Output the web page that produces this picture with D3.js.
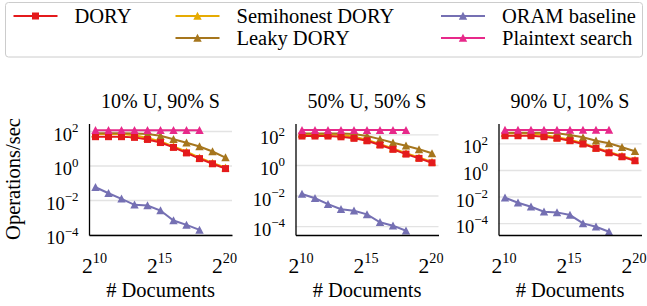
<!doctype html>
<html>
<head>
<meta charset="utf-8">
<style>
  body { margin: 0; background: #fff; }
</style>
<script src="https://cdn.jsdelivr.net/npm/d3@7"></script>
</head>
<body>
<svg id="chart" width="647" height="306"></svg>
<script>
// x values are powers of two (number of documents)
var docExps = [10, 11, 12, 13, 14, 15, 16, 17, 18, 19, 20];
var docExpsShort = [10, 11, 12, 13, 14, 15, 16, 17, 18];
var xTickExps = [10, 15, 20];
var yTickExps = [-4, -2, 0, 2];

var titles = ["10% U, 90% S", "50% U, 50% S", "90% U, 10% S"];

// operations / sec, one row per workload
var dory = [
  [46.8, 46.8, 46.8, 42.7, 32.4, 21.4, 11.2, 5.37, 2.51, 1.26, 0.66],
  [77.6, 77.6, 77.6, 69.2, 55.0, 38.0, 20.0, 10.5, 5.13, 2.69, 1.38],
  [372, 372, 372, 316, 240, 158, 89.1, 41.7, 19.5, 9.77, 4.90]
];
var semihonest = [
  [67.6, 67.6, 66.1, 56.2, 39.8, 25.1, 12.6, 6.31, 2.82, 1.41, 0.74],
  [107, 107, 105, 91.2, 69.2, 44.7, 22.9, 12.0, 5.89, 3.09, 1.58],
  [575, 575, 550, 417, 282, 186, 102, 47.9, 22.4, 11.2, 5.62]
];
var leaky = [
  [74.1, 74.1, 74.1, 72.4, 66.1, 52.5, 33.1, 20.9, 12.6, 6.46, 2.88],
  [115, 115, 115, 115, 107, 77.6, 49.0, 28.2, 17.8, 10.5, 5.75],
  [631, 631, 631, 617, 562, 417, 282, 158, 100, 50.1, 25.1]
];
var oram = [
  [0.055, 0.0245, 0.0117, 0.00525, 0.00479, 0.00245, 0.000646, 0.000363, 0.000186],
  [0.0126, 0.0066, 0.00275, 0.00126, 0.00102, 0.000589, 0.000178, 0.000107, 0.0000501],
  [0.00813, 0.00339, 0.0017, 0.000724, 0.000646, 0.000407, 0.0000955, 0.0000537, 0.0000224]
];
var plaintext = [
  [112, 112, 112, 112, 112, 112, 112, 112, 112],
  [190, 190, 190, 190, 190, 190, 190, 190, 190],
  [1000, 1000, 1000, 1000, 1000, 1000, 1000, 1000, 1000]
];

// y limits per panel (log10)
var yLimits = [[-4.03, 2.435], [-4.58, 2.71], [-4.89, 3.49]];

var series = [
  { name: "Semihonest DORY", color: "#e6ab02", marker: "tri", data: semihonest, xs: docExps },
  { name: "Leaky DORY", color: "#a6761d", marker: "tri", data: leaky, xs: docExps },
  { name: "DORY", color: "#e41a1c", marker: "sq", data: dory, xs: docExps },
  { name: "ORAM baseline", color: "#7570b3", marker: "tri", data: oram, xs: docExpsShort },
  { name: "Plaintext search", color: "#e7298a", marker: "tri", data: plaintext, xs: docExpsShort }
];

var FONT = "'Liberation Serif', 'Times New Roman', serif";
var svg = d3.select("#chart");
var panelLefts = [89, 295.5, 498.5];
var pw = 143, plotTop = 123.5, plotBottom = 235;

function marker(sel, kind, color) {
  if (kind === "sq") {
    sel.append("rect").attr("x", -3.5).attr("y", -3.5).attr("width", 7).attr("height", 7)
      .attr("fill", color);
  } else {
    sel.append("path").attr("d", "M0,-4.2L4.2,3.8L-4.2,3.8Z").attr("fill", color);
  }
}

function supText(t, base, sup, fs, scale, raise) {
  t.text(null);
  t.append("tspan").text(base);
  t.append("tspan").style("font-size", (fs * scale) + "px").attr("dy", -raise).text(sup);
}

function label(sel, fs) {
  return sel.style("font-family", FONT).style("font-size", fs + "px").attr("fill", "#000");
}

titles.forEach(function(title, p) {
  var left = panelLefts[p];
  var x = d3.scaleLog().base(2).domain([Math.pow(2, 9.5), Math.pow(2, 20.5)]).range([left, left + pw]);
  var y = d3.scaleLog().domain([Math.pow(10, yLimits[p][0]), Math.pow(10, yLimits[p][1])]).range([plotBottom, plotTop]);
  var g = svg.append("g");

  // grid
  g.append("g").attr("transform", "translate(" + left + ",0)")
    .call(d3.axisLeft(y).tickValues(yTickExps.map(function(e) { return Math.pow(10, e); }))
      .tickSize(-pw).tickFormat(""))
    .call(function(a) {
      a.select(".domain").remove();
      a.selectAll("line").attr("stroke", "#e3e3e3").attr("stroke-width", 1.4);
    });

  // lines + markers
  series.forEach(function(s) {
    var pts = s.xs.map(function(e, i) { return [Math.pow(2, e), s.data[p][i]]; });
    g.append("path").datum(pts)
      .attr("fill", "none").attr("stroke", s.color).attr("stroke-width", 2)
      .attr("d", d3.line().x(function(d) { return x(d[0]); }).y(function(d) { return y(d[1]); }));
    g.selectAll(null).data(pts).enter().append("g")
      .attr("transform", function(d) { return "translate(" + x(d[0]) + "," + y(d[1]) + ")"; })
      .each(function() { marker(d3.select(this), s.marker, s.color); });
  });

  // y axis
  g.append("g").attr("transform", "translate(" + left + ",0)")
    .call(d3.axisLeft(y).tickValues(yTickExps.map(function(e) { return Math.pow(10, e); }))
      .tickSize(0).tickSizeOuter(0).tickPadding(10.5))
    .call(function(a) {
      a.select(".domain").attr("stroke", "#000").attr("stroke-width", 1.3);
      label(a.selectAll("text"), 18.5).attr("dy", 9.5)
        .each(function(d, i) {
          var e = yTickExps[i];
          supText(d3.select(this), "10", (e < 0 ? "\u2212" : "") + Math.abs(e), 18.5, 0.7, 8.7);
        });
    });

  // x axis
  g.append("g").attr("transform", "translate(0," + plotBottom + ")")
    .call(d3.axisBottom(x).tickValues(xTickExps.map(function(e) { return Math.pow(2, e); }))
      .tickSize(0).tickSizeOuter(0).tickPadding(0))
    .call(function(a) {
      a.select(".domain").attr("stroke", "#000").attr("stroke-width", 1.3);
      label(a.selectAll("text"), 21.5).attr("dy", 38).attr("y", 0).attr("dx", -1.5)
        .each(function(d, i) {
          supText(d3.select(this), "2", String(xTickExps[i]), 21.5, 0.66, 10.4);
        });
    });

  label(g.append("text"), 20).attr("x", left + pw / 2).attr("y", 108)
    .attr("text-anchor", "middle").text(title);
  label(g.append("text"), 20.5).attr("x", left + pw / 2).attr("y", 297)
    .attr("text-anchor", "middle").text("# Documents");
});

label(svg.append("text"), 20.5).attr("transform", "translate(20,179) rotate(-90)")
  .attr("text-anchor", "middle").text("Operations/sec");

// legend
var legendOrder = ["DORY", "Semihonest DORY", "Leaky DORY", "ORAM baseline", "Plaintext search"];
var legendCol = [0, 1, 1, 2, 2], legendRow = [0, 0, 1, 0, 1];
var colX = [13.5, 175.5, 441], rowY = [16, 38];

svg.append("rect").attr("x", 5.5).attr("y", 2.5).attr("width", 637).attr("height", 54.5)
  .attr("rx", 3).attr("fill", "#fff").attr("stroke", "#cccccc").attr("stroke-width", 1);

legendOrder.forEach(function(name, i) {
  var s = series.filter(function(d) { return d.name === name; })[0];
  var lx = colX[legendCol[i]], ly = rowY[legendRow[i]];
  var lg = svg.append("g");
  lg.append("line").attr("x1", lx).attr("x2", lx + 44).attr("y1", ly).attr("y2", ly)
    .attr("stroke", s.color).attr("stroke-width", 2);
  marker(lg.append("g").attr("transform", "translate(" + (lx + 22) + "," + ly + ")"), s.marker, s.color);
  label(lg.append("text"), 20.5).attr("x", lx + 61).attr("y", ly + 7).text(name);
});
</script>
</body>
</html>
